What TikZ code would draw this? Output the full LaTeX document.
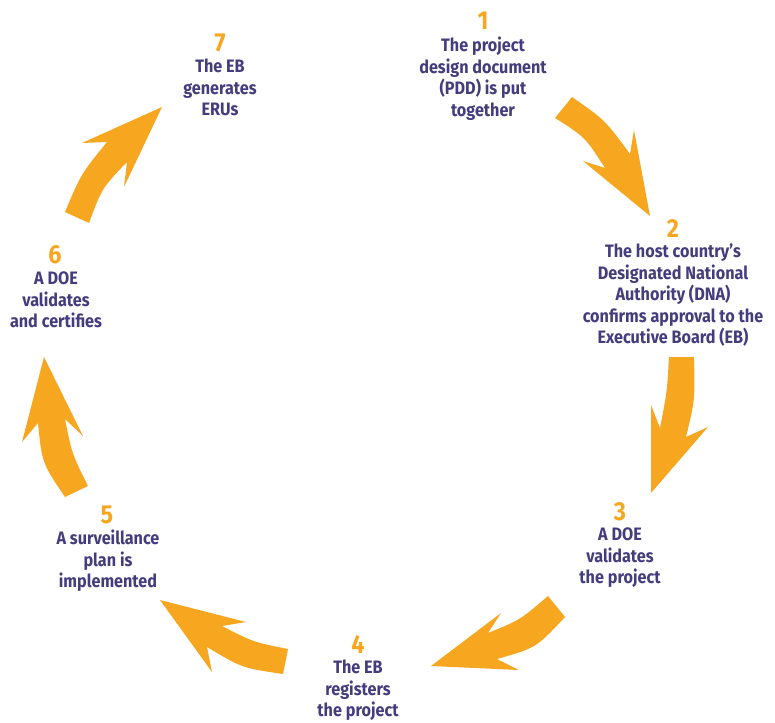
\documentclass[tikz,border=0pt]{standalone}
\usepackage{fontspec}
\setmainfont{Fira Sans}[FakeStretch=0.9]
\definecolor{cycleorange}{RGB}{247,166,32}
\definecolor{cyclepurple}{RGB}{68,60,124}
\tikzset{
  flow/.style={fill=cycleorange, draw=none},
  stepnum/.style={font=\fontsize{26}{26}\selectfont\bfseries, text=cycleorange, inner sep=0pt, anchor=base},
  steptext/.style={font=\fontsize{18}{21.5}\selectfont\bfseries, text=cyclepurple, inner sep=0pt, anchor=north, align=center},
}
\begin{document}
\begin{tikzpicture}[x=1pt,y=-1pt]
\useasboundingbox (0,0) rectangle (775,722);

% step labels
\node[stepnum]  (n1) at (483,30) {1};
\node[steptext] (t1) at (483,37) {The project\\design document\\(PDD) is put\\together};

\node[stepnum]  (n2) at (673,237) {2};
\node[steptext] (t2) at (673,244) {The host country’s\\Designated National\\Authority (DNA)\\confirms approval to the\\Executive Board (EB)};

\node[stepnum]  (n3) at (620,520) {3};
\node[steptext] (t3) at (620,528) {A DOE\\validates\\the project};

\node[stepnum]  (n4) at (358,653) {4};
\node[steptext] (t4) at (358,660) {The EB\\registers\\the project};

\node[stepnum]  (n5) at (107,523) {5};
\node[steptext] (t5) at (108,530) {A surveillance\\plan is\\implemented};

\node[stepnum]  (n6) at (55,263) {6};
\node[steptext] (t6) at (56,272) {A DOE\\validates\\and certifies};

\node[stepnum]  (n7) at (220,52) {7};
\node[steptext] (t7) at (220,59) {The EB\\generates\\ERUs};

% curved block arrows around the cycle
\fill[flow] (572,97) .. controls (605,120) .. (630,154) -- (634,130) -- (650,216)
  -- (583,161) -- (605,168) .. controls (585,137) .. (555,118) -- cycle;

\fill[flow] (669,357) -- (694,357) .. controls (695,400) .. (686,437) -- (708,427)
  -- (651,493) -- (651,405) -- (660,428) .. controls (667,392) .. (669,357) -- cycle;

\fill[flow] (548,596) .. controls (520,620) .. (488,633) -- (501,613) -- (431,666)
  -- (519,670) -- (497,659) .. controls (536,648) .. (565,617) -- cycle;

\fill[flow] (288,649) .. controls (253,642) .. (222,626) -- (246,622) -- (160,600)
  -- (212,672) -- (207,647) .. controls (242,668) .. (283,674) -- cycle;

\fill[flow] (65,497) -- (88,486) .. controls (72,454) .. (65,419) -- (83,436)
  -- (44,357) -- (22,442) -- (38,423) .. controls (42,463) .. (65,497) -- cycle;

\fill[flow] (65,212) .. controls (81,174) .. (107,142) -- (82,143) -- (162,107)
  -- (124,187) -- (127,162) .. controls (102,188) .. (89,223) -- cycle;
\end{tikzpicture}
\end{document}
